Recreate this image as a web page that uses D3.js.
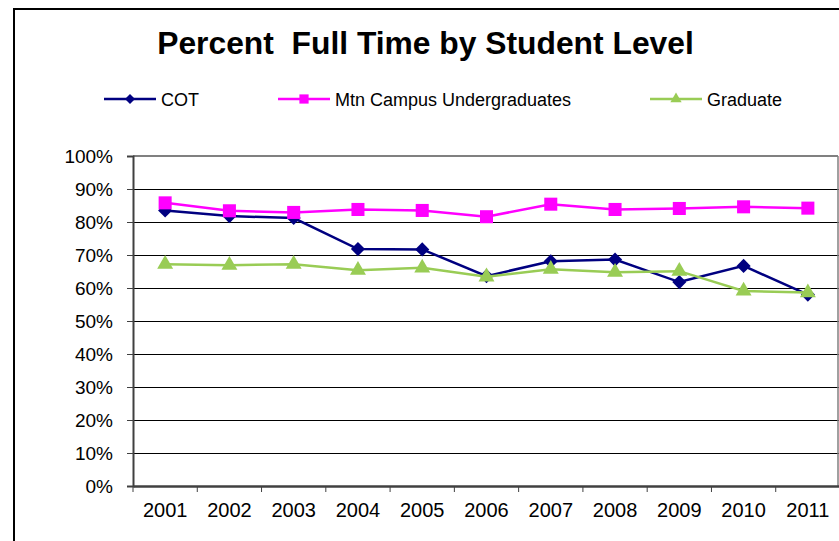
<!DOCTYPE html>
<html><head><meta charset="utf-8">
<script src="https://cdn.jsdelivr.net/npm/d3@7"></script>
<style>body{margin:0;background:#fff}svg{display:block;font-family:"Liberation Sans",Arial,sans-serif}</style>
</head><body><svg id="c" width="839" height="541"></svg>
<script>
const years = ["2001","2002","2003","2004","2005","2006","2007","2008","2009","2010","2011"];
const cot = [0.835,0.818,0.812,0.718,0.717,0.636,0.681,0.686,0.618,0.667,0.580];
const mtn = [0.858,0.834,0.829,0.838,0.835,0.816,0.854,0.838,0.841,0.846,0.842];
const grad = [0.672,0.669,0.672,0.654,0.661,0.634,0.657,0.648,0.651,0.591,0.586];
const yTicks = [0,0.1,0.2,0.3,0.4,0.5,0.6,0.7,0.8,0.9,1.0];
const seriesNames = ["COT","Mtn Campus Undergraduates","Graduate"];

const svg = d3.select("#c");
const L=133, R=840, T=156, B=486;
const x = d3.scaleBand().domain(years).range([L,R]);
const y = d3.scaleLinear().domain([0,1]).range([B,T]);

// outer frame
svg.append("line").attr("x1",14).attr("x2",839).attr("y1",9).attr("y2",9).attr("stroke","#000").attr("stroke-width",2);
svg.append("line").attr("x1",14).attr("x2",14).attr("y1",8).attr("y2",541).attr("stroke","#000").attr("stroke-width",2);

// title
svg.append("text").attr("x",425.5).attr("y",54).attr("text-anchor","middle")
  .attr("font-size",31.8).attr("font-weight","bold").style("white-space","pre")
  .text("Percent  Full Time by Student Level");

// gridlines
svg.append("g").selectAll("line").data(yTicks.filter(d=>d>0 && d<1)).join("line")
  .attr("x1",L).attr("x2",R).attr("y1",d=>Math.round(y(d))+0.5).attr("y2",d=>Math.round(y(d))+0.5)
  .attr("stroke","#000").attr("stroke-width",1);
// plot border top/right
svg.append("line").attr("x1",L).attr("x2",838).attr("y1",T).attr("y2",T).attr("stroke","#808080").attr("stroke-width",2);
svg.append("line").attr("x1",838).attr("x2",838).attr("y1",T).attr("y2",B).attr("stroke","#808080").attr("stroke-width",1.5);

// y axis
const ya = svg.append("g").attr("transform",`translate(${L},0)`)
  .call(d3.axisLeft(y).tickValues(yTicks).tickFormat(d3.format(".0%")).tickSize(6).tickPadding(14));
ya.select(".domain").attr("stroke","#404040").attr("stroke-width",2);
ya.selectAll(".tick line").attr("stroke","#404040").attr("stroke-width",1);
ya.selectAll("text").attr("font-size",19).attr("font-family","Liberation Sans, Arial, sans-serif").attr("fill","#000");

// x axis
const xa = svg.append("g").attr("transform",`translate(0,${B})`)
  .call(d3.axisBottom(x).tickSize(0).tickPadding(14).tickSizeOuter(0));
xa.select(".domain").attr("stroke","#404040").attr("stroke-width",2.5);
xa.selectAll("text").attr("font-size",20).attr("font-family","Liberation Sans, Arial, sans-serif").attr("fill","#000").attr("dy","0.85em");
svg.append("g").selectAll("line").data(years).join("line")
  .attr("x1",d=>x(d)).attr("x2",d=>x(d)).attr("y1",B).attr("y2",B+6)
  .attr("stroke","#404040").attr("stroke-width",1);

const cx = d => x(d)+x.bandwidth()/2;
const line = d3.line().x((d,i)=>cx(years[i])).y(d=>y(d));

const series = [
  {name:seriesNames[0], vals:cot, color:"#000080", sym:d3.symbolSquare, size:100, rot:45},
  {name:seriesNames[1], vals:mtn, color:"#FF00FF", sym:d3.symbolSquare, size:170, rot:0},
  {name:seriesNames[2], vals:grad, color:"#99CC55", sym:d3.symbolTriangle, size:110, rot:0}
];
series.forEach(s=>{
  svg.append("path").datum(s.vals).attr("d",line).attr("fill","none").attr("stroke",s.color).attr("stroke-width",2.5);
  svg.append("g").selectAll("path").data(s.vals).join("path")
    .attr("transform",(d,i)=>`translate(${cx(years[i])},${y(d)}) rotate(${s.rot})`)
    .attr("d",d3.symbol().type(s.sym).size(s.size)).attr("fill",s.color);
});

// legend
const legX = [104, 278, 650];
series.forEach((s,i)=>{
  const g = svg.append("g").attr("transform",`translate(${legX[i]},99)`);
  g.append("line").attr("x1",0).attr("x2",52).attr("y1",0).attr("y2",0).attr("stroke",s.color).attr("stroke-width",2.5);
  g.append("path").attr("transform",`translate(26,0) rotate(${s.rot})`).attr("d",d3.symbol().type(s.sym).size(s.size*0.5)).attr("fill",s.color);
  g.append("text").attr("x",57).attr("y",6.5).attr("font-size",18).text(s.name);
});
</script></body></html>
